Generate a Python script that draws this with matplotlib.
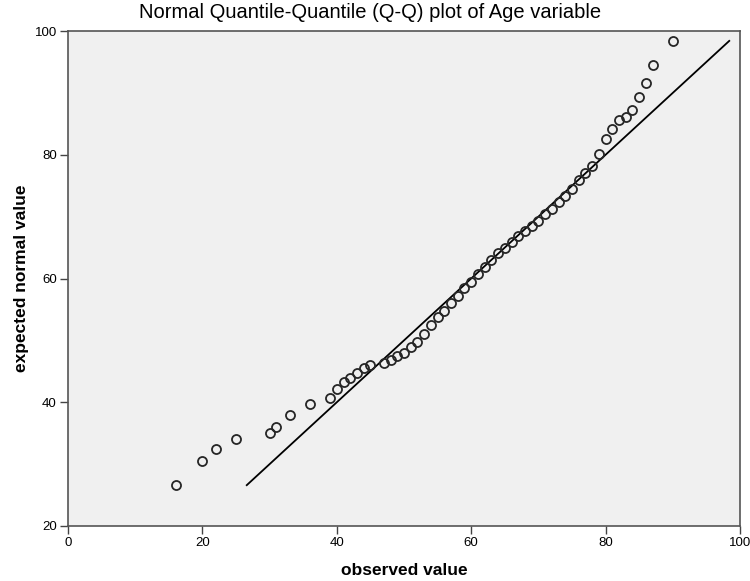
import matplotlib
matplotlib.use("Agg")
import matplotlib.pyplot as plt

observed = [16, 20, 22, 25, 30, 31, 33, 36,
            39, 40, 41, 42, 43, 44, 45,
            47, 48, 49, 50, 51, 52,
            53, 54, 55, 56, 57, 58, 59, 60, 61, 62,
            63, 64, 65, 66, 67, 68, 69, 70, 71, 72,
            73, 74, 75, 76, 77, 78, 79,
            80, 81, 82, 83, 84, 85, 86, 87, 90]
expected = [26.6, 30.5, 32.5, 34.0, 35.1, 36.0, 37.9, 39.7,
            40.7, 42.1, 43.2, 43.9, 44.8, 45.6, 46.0,
            46.4, 46.9, 47.5, 47.9, 48.9, 49.8,
            51.0, 52.5, 53.8, 54.8, 56.0, 57.1, 58.4, 59.5, 60.7, 61.8,
            63.0, 64.1, 65.0, 65.9, 66.9, 67.7, 68.5, 69.3, 70.4, 71.2,
            72.3, 73.4, 74.4, 75.9, 77.1, 78.2, 80.1,
            82.5, 84.2, 85.6, 86.1, 87.3, 89.3, 91.6, 94.5, 98.4]
x_ticks = [0, 20, 40, 60, 80, 100]
y_ticks = [20, 40, 60, 80, 100]

plt.rcParams['font.family'] = ['Liberation Sans', 'DejaVu Sans']

fig = plt.figure(figsize=(7.5, 5.81), dpi=100)
ax = fig.add_axes([68/750, 1-526/581, (740-68)/750, (526-31)/581])
ax.set_facecolor('#f0f0f0')

lo, hi = min(expected), max(expected)
ax.plot([lo, hi], [lo, hi], color='black', lw=1.3, zorder=2)
ax.plot(observed, expected, linestyle='none', marker='o', markersize=6.5,
        markerfacecolor='none', markeredgecolor='#262626', markeredgewidth=1.3, zorder=3)

ax.set_xlim(0, 100)
ax.set_ylim(20, 100)
ax.set_xticks(x_ticks)
ax.set_yticks(y_ticks)
ax.tick_params(direction='out', length=6, width=1, color='#444444', labelsize=9.5, pad=2)
for s in ax.spines.values():
    s.set_color('#555555')
    s.set_linewidth(1.2)

ax.set_xlabel('observed value', fontsize=12.5, fontweight='bold', labelpad=10)
fig.text(22/750, 1-278/581, 'expected normal value', rotation=90,
         ha='center', va='center', fontsize=12.5, fontweight='bold')
fig.text(370/750, 1-12/581, 'Normal Quantile-Quantile (Q-Q) plot of Age variable',
         ha='center', va='center', fontsize=14.5)

fig.savefig('out.png', dpi=100, facecolor='white')
